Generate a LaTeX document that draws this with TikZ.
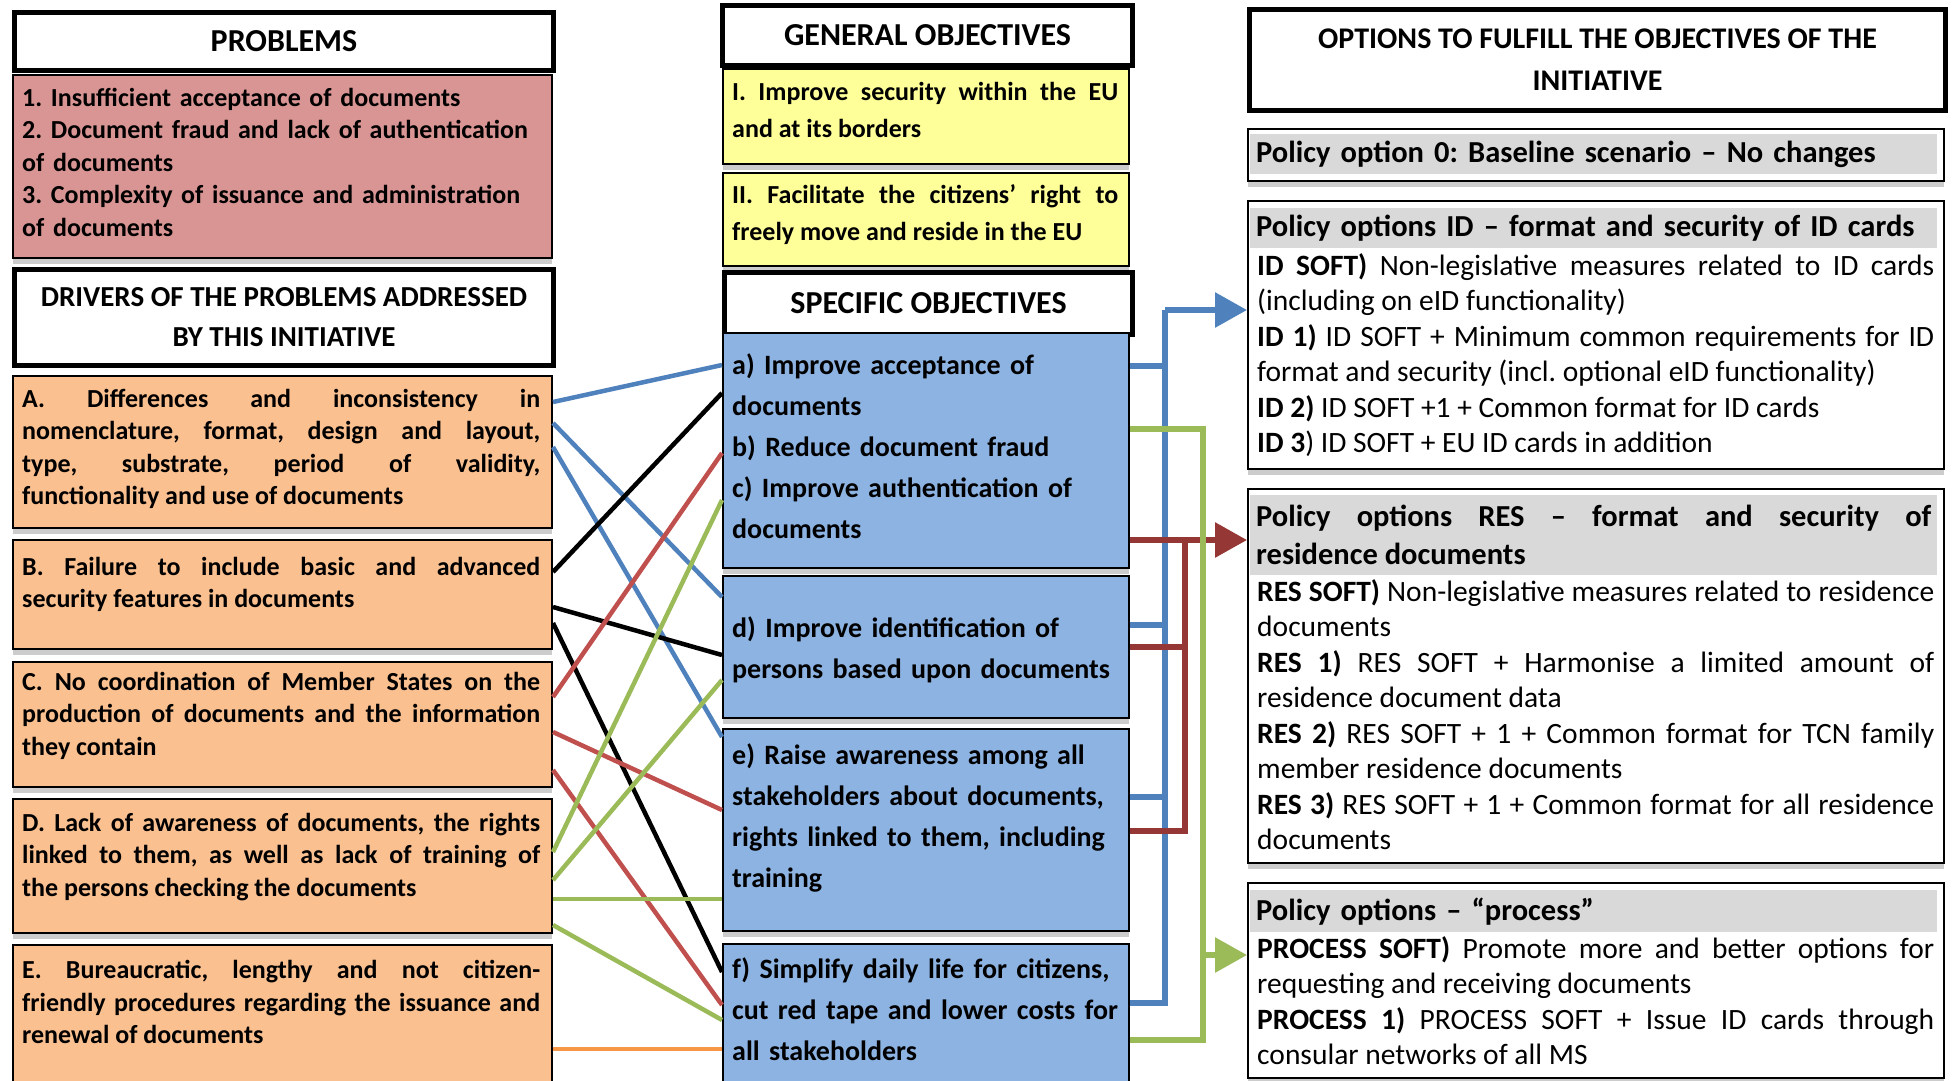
\documentclass[tikz,border=0pt]{standalone}
\usepackage{fontspec}
\setmainfont{Carlito}
\usetikzlibrary{arrows.meta,shadows}
\setlength{\parindent}{0pt}
\frenchspacing
\tolerance=10000 \hbadness=10000 \hyphenpenalty=10000
\definecolor{probred}{HTML}{D99594}
\definecolor{drvorange}{HTML}{FAC090}
\definecolor{genyellow}{HTML}{FFFF99}
\definecolor{objblue}{HTML}{8DB3E2}
\definecolor{optgrey}{HTML}{D9D9D9}
\definecolor{lnblue}{HTML}{4F81BD}
\definecolor{lnred}{HTML}{C0504D}
\definecolor{lngreen}{HTML}{9BBB59}
\definecolor{lnorange}{HTML}{F79646}
\definecolor{busred}{HTML}{953735}
\begin{document}
\begin{tikzpicture}[x=1pt,y=-1pt,
    box/.style={draw,line width=2pt,anchor=north west,inner sep=0pt,
        drop shadow={shadow xshift=0pt,shadow yshift=-6pt,fill=black!20,opacity=1}},
    hdr/.style={draw,line width=5pt,anchor=north west,inner sep=0pt,fill=white,align=center},
    txt/.style={anchor=north west,inner sep=0pt,align=justify},
    lefttxt/.style={txt,text width=518pt,font=\bfseries\fontsize{26}{32.5}\selectfont},
    objtxt/.style={txt,align=left,text width=390pt,font=\bfseries\fontsize{28}{41}\selectfont},
    opttxt/.style={txt,text width=677pt,font=\fontsize{29.5}{35.5}\selectfont},
    band/.style={anchor=north west,fill=optgrey,inner xsep=6pt,inner ysep=0pt,text width=675pt,
        font=\bfseries\fontsize{30.5}{38}\selectfont},
    lnk/.style={line width=4.5pt},
    bus/.style={line width=6pt},
    tip/.style={-{Triangle[length=32pt,width=34pt]}}]
\useasboundingbox (0,0) rectangle (1953,1080);
% problems and drivers
\node[hdr,minimum width=539pt,minimum height=58pt,font=\bfseries\fontsize{32}{40}\selectfont] (hdrProb) at (12,10) {PROBLEMS};
\node[box,fill=probred,minimum width=539pt,minimum height=183pt] (prob) at (12,74) {};
\node[lefttxt,align=left] (probtxt) at (22,88) {1. Insufficient acceptance of documents\\2. Document fraud and lack of authentication\\of documents\\3. Complexity of issuance and administration\\of documents};
\node[hdr,minimum width=539pt,minimum height=96pt,font=\bfseries\fontsize{29}{40}\selectfont] (hdrDrv) at (12,267) {DRIVERS OF THE PROBLEMS ADDRESSED\\BY THIS INITIATIVE};
\node[box,fill=drvorange,minimum width=539pt,minimum height=152pt] (drvA) at (12,375) {};
\node[box,fill=drvorange,minimum width=539pt,minimum height=109pt] (drvB) at (12,539) {};
\node[box,fill=drvorange,minimum width=539pt,minimum height=125pt] (drvC) at (12,661) {};
\node[box,fill=drvorange,minimum width=539pt,minimum height=134pt] (drvD) at (12,798) {};
\node[box,fill=drvorange,minimum width=539pt,minimum height=150pt] (drvE) at (12,944) {};
\node[lefttxt] (drvAtxt) at (22,389) {A. Differences and inconsistency in \linebreak nomenclature, format, design and layout, \linebreak type, substrate, period of validity, \linebreak functionality and use of documents};
\node[lefttxt] (drvBtxt) at (22,557) {B. Failure to include basic and advanced \linebreak security features in documents};
\node[lefttxt] (drvCtxt) at (22,672) {C. No coordination of Member States on the \linebreak production of documents and the information \linebreak they contain};
\node[lefttxt] (drvDtxt) at (22,813) {D. Lack of awareness of documents, the rights \linebreak linked to them, as well as lack of training of \linebreak the persons checking the documents};
\node[lefttxt] (drvEtxt) at (22,960) {E. Bureaucratic, lengthy and not citizen-\linebreak friendly procedures regarding the issuance and \linebreak renewal of documents};
% objectives
\node[hdr,minimum width=410pt,minimum height=60pt,font=\bfseries\fontsize{32}{40}\selectfont] (hdrGen) at (720,3) {GENERAL OBJECTIVES};
\node[box,fill=genyellow,minimum width=406pt,minimum height=95pt] (genI) at (722,68) {};
\node[box,fill=genyellow,minimum width=406pt,minimum height=93pt] (genII) at (722,172) {};
\node[txt,text width=386pt,font=\bfseries\fontsize{26}{37}\selectfont] (genItxt) at (732,82) {I. Improve security within the EU \linebreak and at its borders};
\node[txt,text width=386pt,font=\bfseries\fontsize{26}{37}\selectfont] (genIItxt) at (732,184) {II. Facilitate the citizens’ right to \linebreak freely move and reside in the EU};
\node[hdr,minimum width=408pt,minimum height=62pt,font=\bfseries\fontsize{32}{40}\selectfont] (hdrSpec) at (722,270) {SPECIFIC OBJECTIVES};
\node[box,fill=objblue,minimum width=406pt,minimum height=235pt] (objABC) at (722,332) {};
\node[box,fill=objblue,minimum width=406pt,minimum height=142pt] (objD) at (722,575) {};
\node[box,fill=objblue,minimum width=406pt,minimum height=202pt] (objE) at (722,728) {};
\node[box,fill=objblue,minimum width=406pt,minimum height=150pt] (objF) at (722,943) {};
\node[objtxt] (objABCtxt) at (732,354) {a) Improve acceptance of\\documents\\b) Reduce document fraud\\c) Improve authentication of\\documents};
\node[objtxt] (objDtxt) at (732,617) {d) Improve identification of\\persons based upon documents};
\node[objtxt] (objEtxt) at (732,744) {e) Raise awareness among all\\stakeholders about documents,\\rights linked to them, including\\training};
\node[objtxt] (objFtxt) at (732,957) {f) Simplify daily life for citizens,\\cut red tape and lower costs for\\all stakeholders};
% options
\node[hdr,minimum width=696pt,minimum height=101pt,font=\bfseries\fontsize{30}{42}\selectfont] (hdrOpt) at (1247,7) {OPTIONS TO FULFILL THE OBJECTIVES OF THE\\INITIATIVE};
\node[box,fill=white,minimum width=696pt,minimum height=52pt] (opt0) at (1247,128) {};
\node[band,minimum height=40pt] (opt0hd) at (1250,134) {Policy option 0: Baseline scenario – No changes};
\node[box,fill=white,minimum width=696pt,minimum height=268pt] (optID) at (1247,200) {};
\node[band,minimum height=40pt] (optIDhd) at (1250,208) {Policy options ID – format and security of ID cards};
\node[opttxt] (optIDtxt) at (1257,253) {\textbf{ID SOFT)} Non-legislative measures related to ID cards \linebreak (including on eID functionality)\\\textbf{ID 1)} ID SOFT + Minimum common requirements for ID \linebreak format and security (incl. optional eID functionality)\\\textbf{ID 2)} ID SOFT +1 + Common format for ID cards\\\textbf{ID 3}) ID SOFT + EU ID cards in addition};
\node[box,fill=white,minimum width=696pt,minimum height=374pt] (optRES) at (1247,488) {};
\node[band,minimum height=80pt,align=justify] (optREShd) at (1250,495) {Policy options RES – format and security of \linebreak residence documents};
\node[opttxt] (optREStxt) at (1257,579) {\textbf{RES SOFT)} Non-legislative measures related to residence \linebreak documents\\\textbf{RES 1)} RES SOFT + Harmonise a limited amount of \linebreak residence document data\\\textbf{RES 2)} RES SOFT + 1 + Common format for TCN family \linebreak member residence documents\\\textbf{RES 3)} RES SOFT + 1 + Common format for all residence \linebreak documents};
\node[box,fill=white,minimum width=696pt,minimum height=195pt] (optPROC) at (1247,882) {};
\node[band,minimum height=42pt] (optPROChd) at (1250,890) {Policy options – “process”};
\node[opttxt] (optPROCtxt) at (1257,936) {\textbf{PROCESS SOFT)} Promote more and better options for \linebreak requesting and receiving documents\\\textbf{PROCESS 1)} PROCESS SOFT + Issue ID cards through \linebreak consular networks of all MS};
% drivers to specific objectives
\draw[lnk,lnblue] ([yshift=-27pt]drvA.north east) -- ([yshift=-33pt]objABC.north west);
\draw[lnk,lnblue] ([yshift=-48pt]drvA.north east) -- ([yshift=-22pt]objD.north west);
\draw[lnk,lnblue] ([yshift=-72pt]drvA.north east) -- ([yshift=-9pt]objE.north west);
\draw[lnk,black] ([yshift=-33pt]drvB.north east) -- ([yshift=-61pt]objABC.north west);
\draw[lnk,black] ([yshift=-68pt]drvB.north east) -- ([yshift=-80pt]objD.north west);
\draw[lnk,black] ([yshift=-84pt]drvB.north east) -- ([yshift=-29pt]objF.north west);
\draw[lnk,lnred] ([yshift=-36pt]drvC.north east) -- ([yshift=-121pt]objABC.north west);
\draw[lnk,lnred] ([yshift=-71pt]drvC.north east) -- ([yshift=-82pt]objE.north west);
\draw[lnk,lnred] ([yshift=-109pt]drvC.north east) -- ([yshift=-62pt]objF.north west);
\draw[lnk,lngreen] ([yshift=-54pt]drvD.north east) -- ([yshift=-168pt]objABC.north west);
\draw[lnk,lngreen] ([yshift=-82pt]drvD.north east) -- ([yshift=-105pt]objD.north west);
\draw[lnk,lngreen] ([yshift=-101pt]drvD.north east) -- ([yshift=-171pt]objE.north west);
\draw[lnk,lngreen] ([yshift=-127pt]drvD.north east) -- ([yshift=-77pt]objF.north west);
\draw[lnk,lnorange] ([yshift=-105pt]drvE.north east) -- ([yshift=-106pt]objF.north west);
% specific objectives to options
\coordinate (bluetop) at (1165,310);
\coordinate (redtop) at (1185,540);
\coordinate (greenbot) at (1203,1040);
\coordinate (greenarr) at (1203,955);
\draw[bus,lnblue] ([yshift=-34pt]objABC.north east) -| (bluetop);
\draw[bus,lnblue] ([yshift=-50pt]objD.north east) -| (bluetop);
\draw[bus,lnblue] ([yshift=-69pt]objE.north east) -| (bluetop);
\draw[bus,lnblue] ([yshift=-60pt]objF.north east) -| (bluetop);
\draw[bus,lnblue,tip] (bluetop) -- (bluetop -| optID.west);
\draw[bus,busred] ([yshift=-72pt]objD.north east) -| (redtop);
\draw[bus,busred] ([yshift=-103pt]objE.north east) -| (redtop);
\draw[bus,busred,tip] ([yshift=-208pt]objABC.north east) -- (redtop -| optRES.west);
\draw[bus,lngreen] ([yshift=-97pt]objABC.north east) -| (greenbot) -- ([yshift=-97pt]objF.north east);
\draw[bus,lngreen,tip] (greenarr) -- (greenarr -| optPROC.west);
\end{tikzpicture}
\end{document}
